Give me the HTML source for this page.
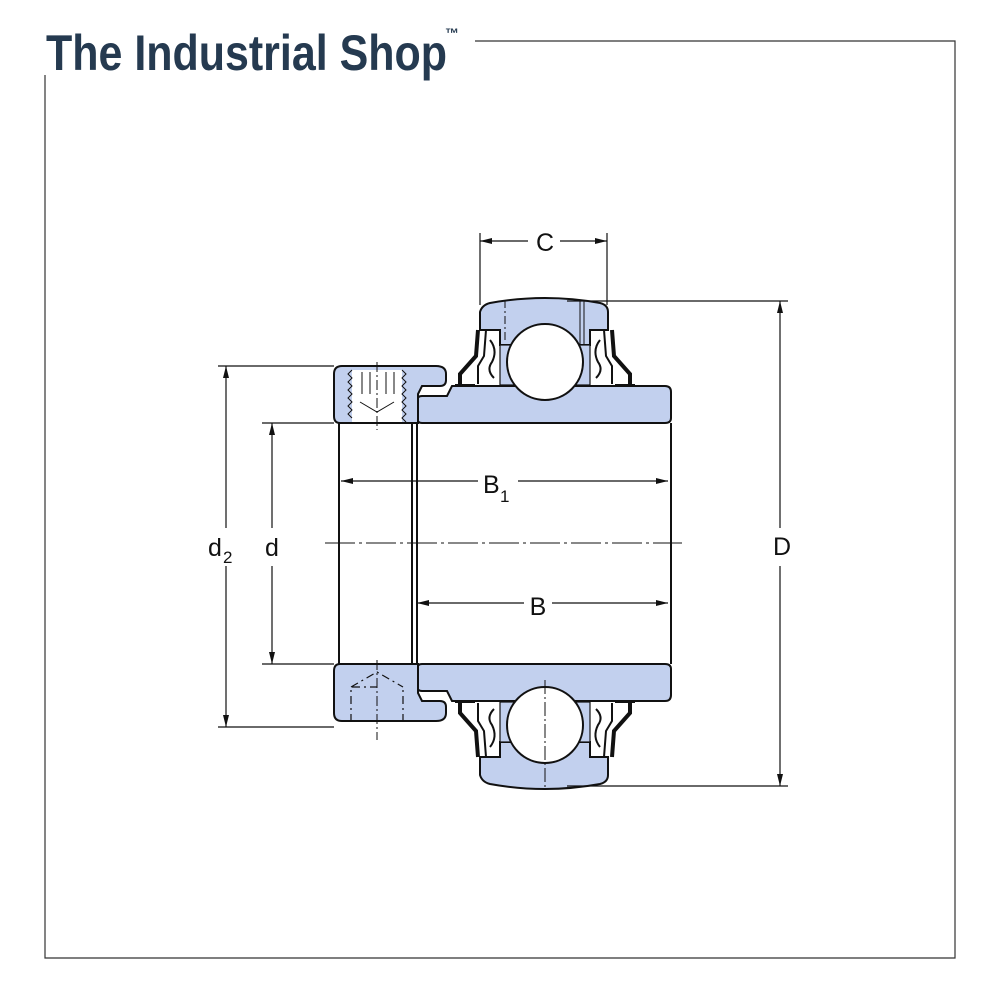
<!DOCTYPE html>
<html><head><meta charset="utf-8"><style>
html,body{margin:0;padding:0;background:#fff;}
svg{display:block;}
</style></head><body>
<svg width="1000" height="1000" viewBox="0 0 1000 1000" xmlns="http://www.w3.org/2000/svg" font-family="Liberation Sans, Arial, sans-serif">
<defs>
<marker id="a" viewBox="0 0 12 6" refX="12" refY="3" markerWidth="12" markerHeight="6" orient="auto-start-reverse" markerUnits="userSpaceOnUse"><path d="M0,0 L12,3 L0,6 z" fill="#111"/></marker>
<g id="upper">
  <!-- outer ring -->
  <path d="M480,312 Q482,305 490,303 Q545,293 600,303 Q608,305 608,312 L608,330 L590,330 L590,345 L500,345 L500,330 L480,330 Z" fill="#c2d0ee" stroke="#111" stroke-width="2"/>
  <rect x="500" y="345" width="90" height="40" fill="#c2d0ee" stroke="#111" stroke-width="1.2"/>
  <!-- seals left -->
  <path d="M478,330 L476,356 L460,374 L460,386" fill="none" stroke="#111" stroke-width="4"/>
  <path d="M455,386 L475,386" stroke="#111" stroke-width="4"/>
  <path d="M486,330 L484,356 L478,366 L478,384 M490,340 Q498,350 492,362 Q486,370 494,378" fill="none" stroke="#111" stroke-width="2"/>
  <!-- seals right -->
  <path d="M612,330 L614,356 L630,374 L630,386" fill="none" stroke="#111" stroke-width="4"/>
  <path d="M615,386 L635,386" stroke="#111" stroke-width="4"/>
  <path d="M604,330 L606,356 L612,366 L612,384 M600,340 Q592,350 598,362 Q604,370 596,378" fill="none" stroke="#111" stroke-width="2"/>
  <!-- inner ring -->
  <path d="M422,396 L447,396 L452,386 L665,386 Q671,386 671,392 L671,418 Q671,423 665,423 L422,423 Q417,423 417,418 L417,401 Q417,396 422,396 Z" fill="#c2d0ee" stroke="#111" stroke-width="2"/>
  <!-- ball -->
  <circle cx="545" cy="362" r="38" fill="#fff" stroke="#111" stroke-width="2"/>
  <!-- collar -->
  <path d="M342,366 L436,366 Q446,366 446,374 L446,380 Q446,386 440,386 L422,386 L418,394 L418,423 L340,423 Q334,423 334,416 L334,374 Q334,366 342,366 Z" fill="#c2d0ee" stroke="#111" stroke-width="2"/>
</g>
</defs>

<!-- frame -->
<path d="M475,41 L955,41 L955,958 L45,958 L45,75" fill="none" stroke="#333" stroke-width="1.2"/>
<text x="46" y="70" font-size="50" font-weight="bold" fill="#253a50" textLength="401" lengthAdjust="spacingAndGlyphs">The Industrial Shop</text>
<text x="445" y="38" font-size="14" font-weight="bold" fill="#253a50">™</text>

<!-- bore -->
<line x1="339" y1="423" x2="339" y2="664" stroke="#111" stroke-width="2"/>
<line x1="412" y1="423" x2="412" y2="664" stroke="#111" stroke-width="2"/>
<line x1="417" y1="423" x2="417" y2="664" stroke="#111" stroke-width="2"/>
<line x1="671" y1="423" x2="671" y2="664" stroke="#111" stroke-width="2"/>

<use href="#upper"/>
<use href="#upper" transform="translate(0,1087) scale(1,-1)"/>

<!-- set screw detail top -->
<rect x="352" y="370" width="50" height="52" fill="#fff"/>
<path d="M352,370 l-4,4 4,4 -4,4 4,4 -4,4 4,4 -4,4 4,4 -4,4 4,4 -4,4 4,4 M402,370 l4,4 -4,4 4,4 -4,4 4,4 -4,4 4,4 -4,4 4,4 -4,4 4,4 -4,4 4,4" fill="none" stroke="#111" stroke-width="1"/>
<path d="M362,372 v22 M370,372 v22 M386,372 v22 M394,372 v22 M360,402 l17,10 17,-10" fill="none" stroke="#111" stroke-width="1"/>
<line x1="377" y1="362" x2="377" y2="430" stroke="#111" stroke-width="1" stroke-dasharray="10,3,2,3"/>
<!-- bottom screw hole -->
<path d="M351,722 V687 L377,687 M403,722 V687 M351,687 L377,672 L403,687" fill="none" stroke="#111" stroke-width="1.2" stroke-dasharray="8,4,2,4"/>
<line x1="377" y1="660" x2="377" y2="740" stroke="#111" stroke-width="1" stroke-dasharray="10,3,2,3"/>
<!-- ball center lines -->
<line x1="545" y1="680" x2="545" y2="790" stroke="#111" stroke-width="1" stroke-dasharray="14,3,2,3"/>
<line x1="505" y1="300" x2="505" y2="340" stroke="#111" stroke-width="1" stroke-dasharray="8,3,2,3"/>
<line x1="580" y1="300" x2="580" y2="345" stroke="#111" stroke-width="1"/>
<line x1="584" y1="300" x2="584" y2="345" stroke="#111" stroke-width="1"/>

<!-- center line -->
<line x1="325" y1="543" x2="682" y2="543" stroke="#111" stroke-width="1" stroke-dasharray="30,4,3,4"/>

<!-- dimensions -->
<g stroke="#111" stroke-width="1.2" fill="none">
<line x1="218" y1="366" x2="334" y2="366"/>
<line x1="218" y1="727" x2="334" y2="727"/>
<line x1="262" y1="423" x2="334" y2="423"/>
<line x1="262" y1="664" x2="334" y2="664"/>
<line x1="226" y1="366" x2="226" y2="528" marker-start="url(#a)"/>
<line x1="226" y1="566" x2="226" y2="727" marker-end="url(#a)"/>
<line x1="272" y1="423" x2="272" y2="528" marker-start="url(#a)"/>
<line x1="272" y1="566" x2="272" y2="664" marker-end="url(#a)"/>
<line x1="567" y1="301" x2="788" y2="301"/>
<line x1="567" y1="786" x2="788" y2="786"/>
<line x1="780" y1="301" x2="780" y2="528" marker-start="url(#a)"/>
<line x1="780" y1="566" x2="780" y2="786" marker-end="url(#a)"/>
<line x1="480" y1="233" x2="480" y2="305"/>
<line x1="607" y1="233" x2="607" y2="305"/>
<line x1="480" y1="241" x2="528" y2="241" marker-start="url(#a)"/>
<line x1="560" y1="241" x2="607" y2="241" marker-end="url(#a)"/>
<line x1="341" y1="481" x2="478" y2="481" marker-start="url(#a)"/>
<line x1="518" y1="481" x2="668" y2="481" marker-end="url(#a)"/>
<line x1="417" y1="603" x2="524" y2="603" marker-start="url(#a)"/>
<line x1="552" y1="603" x2="668" y2="603" marker-end="url(#a)"/>
</g>
<g fill="#111" font-size="25">
<text x="545" y="251" text-anchor="middle">C</text>
<text x="483" y="493">B</text><text x="500" y="502" font-size="17">1</text>
<text x="538" y="615" text-anchor="middle">B</text>
<text x="208" y="556">d</text><text x="223" y="563" font-size="17">2</text>
<text x="272" y="556" text-anchor="middle">d</text>
<text x="782" y="555" text-anchor="middle">D</text>
</g>
</svg>
</body></html>
